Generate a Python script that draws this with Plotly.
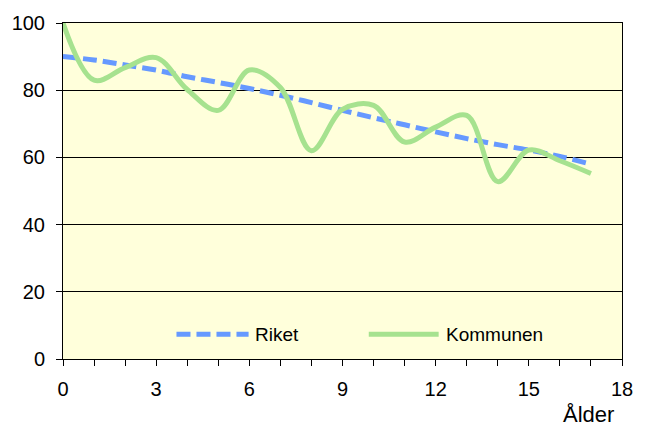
import plotly.graph_objects as go

ages = list(range(0, 18))
riket = [90, 89, 87.5, 86, 84, 82.3, 80.5, 78.5, 76.3, 74, 71.8, 69.7, 67.6, 65.6, 63.8, 62.2, 60.3, 58]
kommunen = [100, 83, 86.7, 89.7, 80.2, 74, 86, 80.8, 62, 74.3, 75.5, 64.6, 69, 72.5, 52.8, 62.2, 59, 55.2]
xtick_vals = list(range(0, 19))
xtick_text = [str(v) if v % 3 == 0 else "" for v in xtick_vals]
ytick_vals = [0, 20, 40, 60, 80, 100]

BLUE = "#6699FF"
GREEN = "#A6E28F"
FONT = "Liberation Sans, Arial, sans-serif"

fig = go.Figure()
fig.add_trace(go.Scatter(x=ages, y=riket, mode="lines", name="Riket",
                         line=dict(color=BLUE, width=5, dash="14px,6px", shape="spline"),
                         showlegend=False))
fig.add_trace(go.Scatter(x=ages, y=kommunen, mode="lines", name="Kommunen",
                         line=dict(color=GREEN, width=5, shape="spline", smoothing=1.0),
                         showlegend=False))

# manual legend keys
fig.add_shape(type="line", xref="paper", yref="paper", x0=0.203, x1=0.332, y0=0.074, y1=0.074,
              line=dict(color=BLUE, width=5, dash="14px,6px"))
fig.add_shape(type="line", xref="paper", yref="paper", x0=0.547, x1=0.672, y0=0.074, y1=0.074,
              line=dict(color=GREEN, width=5))
fig.add_annotation(text="Riket", xref="paper", yref="paper", x=0.340, y=0.074,
                   xanchor="left", yanchor="middle", showarrow=False,
                   font=dict(size=19, color="#000000", family=FONT))
fig.add_annotation(text="Kommunen", xref="paper", yref="paper", x=0.681, y=0.074,
                   xanchor="left", yanchor="middle", showarrow=False,
                   font=dict(size=19, color="#000000", family=FONT))
fig.add_annotation(text="Ålder", xref="paper", yref="paper", x=1, y=0,
                   xanchor="right", yanchor="middle", xshift=-6, yshift=-55,
                   showarrow=False, font=dict(size=22, color="#000000", family=FONT))

fig.update_layout(
    width=645, height=427,
    margin=dict(l=62, r=16, t=20, b=68),
    paper_bgcolor="white",
    plot_bgcolor="#FFFFDB",
    font=dict(family=FONT, size=20, color="#000000"),
    showlegend=False,
)
fig.update_xaxes(range=[0, 18], tickvals=xtick_vals, ticktext=xtick_text,
                 ticks="outside", ticklen=6, tickcolor="#000000", tickwidth=1,
                 showline=True, linecolor="#000000", linewidth=1, mirror=True,
                 showgrid=False, zeroline=False, ticklabelstandoff=6)
fig.update_yaxes(range=[0, 100], tickvals=ytick_vals,
                 ticks="outside", ticklen=6, tickcolor="#000000", tickwidth=1,
                 showline=True, linecolor="#000000", linewidth=1, mirror=True,
                 showgrid=True, gridcolor="#000000", gridwidth=1, zeroline=False,
                 ticklabelstandoff=7)

fig.write_html("out.html", config={"displayModeBar": False},
               post_script="document.body.style.margin='0';document.body.style.overflow='hidden';")
